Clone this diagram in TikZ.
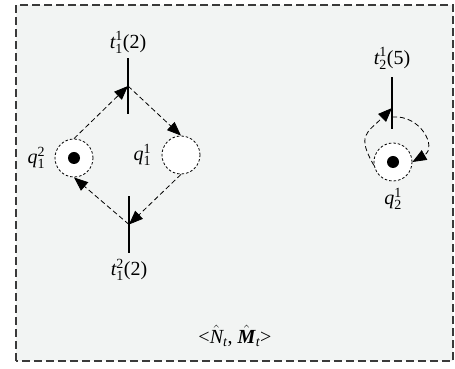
\documentclass[tikz,border=0pt]{standalone}
\usepackage{amsmath}
\usepackage{fontspec}
\setmainfont{Liberation Serif}
\usetikzlibrary{arrows.meta,positioning}
\definecolor{bgfill}{HTML}{F2F4F3}
\definecolor{framegray}{HTML}{3A3A3A}
\tikzset{
  place/.style={circle,draw,dash pattern=on 2.5pt off 2pt,line width=0.8pt,fill=white,minimum size=38pt,inner sep=0pt},
  token/.style={circle,fill=black,minimum size=12pt,inner sep=0pt},
  trans/.style={rectangle,fill=black,minimum width=2pt,inner sep=0pt},
  flow/.style={dash pattern=on 5pt off 3pt,line width=0.8pt,arrows={-Triangle[length=14pt,width=11pt]}},
}
\newcommand{\tl}[3]{$\textit{#1}^{\textrm{#2}}_{\textrm{#3}}$}

\begin{document}
\begin{tikzpicture}[x=1pt,y=1pt,font=\fontsize{20}{24}\selectfont]
    \useasboundingbox (0,0) rectangle (455,369);
    \draw[framegray,fill=bgfill,line width=1.2pt,dash pattern=on 8pt off 4pt] (16,8) rectangle (453,364);
    % transitions
    \node[trans,minimum height=56pt] (t11) at (128,283) {};
    \node[trans,minimum height=57pt] (t12) at (129,144.5) {};
    \node[trans,minimum height=52pt] (t21) at (392,266) {};
    % places
    \node[place] (q12) at (74,211) {};
    \node[place] (q11) at (181,214) {};
    \node[place] (q21) at (393,207) {};
    \node[token] (k12) at (q12) {};
    \node[token] (k21) at (q21) {};
    % labels
    \node[above=1pt of t11] (t11lab) {\tl{t}{1}{1}(2)};
    \node[below=2pt of t12] (t12lab) {\tl{t}{2}{1}(2)};
    \node[above=4pt of t21] (t21lab) {\tl{t}{1}{2}(5)};
    \node[left=6pt of q12] (q12lab) {\tl{q}{2}{1}};
    \node[left=7pt of q11] (q11lab) {\tl{q}{1}{1}};
    \node[below=3pt of q21] (q21lab) {\tl{q}{1}{2}};
    \node (marking) at (235,33) {\textless$\hat{\textit{N}}_{\textit{t}}$, $\hat{\textbf{\textit{M}}}_{\textit{t}}$\textgreater};
    % arcs
    \draw[flow] (q12.north) -- (t11.center);
    \draw[flow] (t11.center) -- (q11.north);
    \draw[flow] (q11.south) -- (t12.center);
    \draw[flow] (t12.center) -- (q12.south);
    \coordinate (t21in) at ([yshift=-5pt]t21.center);
    \coordinate (t21out) at ([yshift=-14pt]t21.center);
    \draw[flow] (q21.190) to[out=120,in=225,looseness=1.5] (t21in);
    \draw[flow] (t21out) to[out=5,in=30,looseness=1.5] (q21.east);
\end{tikzpicture}
\end{document}
